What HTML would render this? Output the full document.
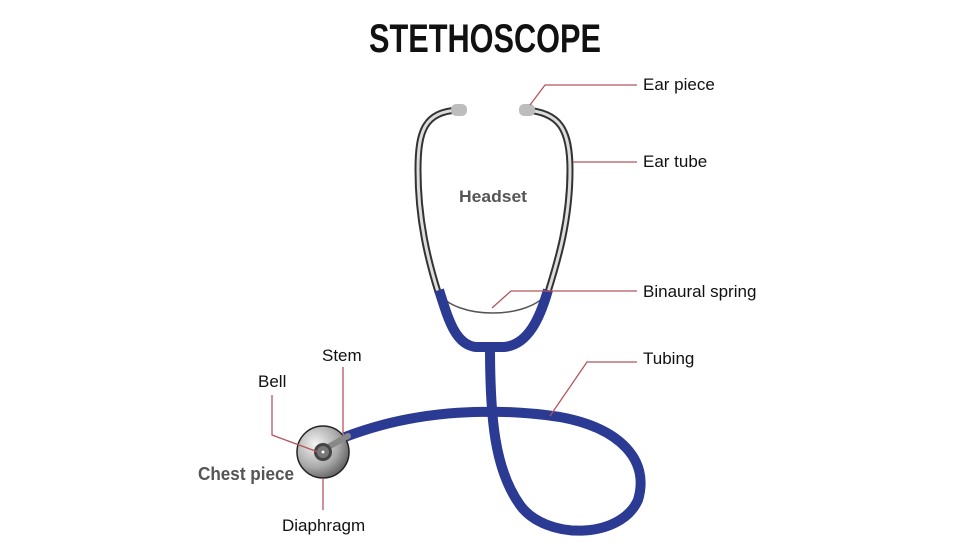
<!DOCTYPE html>
<html><head><style>
html,body{margin:0;padding:0;background:#fff;}
svg{display:block;}
text{font-family:"Liberation Sans",sans-serif;}
</style></head><body>
<svg width="969" height="552" viewBox="0 0 969 552" xmlns="http://www.w3.org/2000/svg">
<defs>
<radialGradient id="g" cx="0.35" cy="0.35" r="0.75">
<stop offset="0" stop-color="#f4f4f4"/><stop offset="0.6" stop-color="#a8a8a8"/><stop offset="1" stop-color="#555"/>
</radialGradient>
</defs>
<text x="485" y="52" text-anchor="middle" font-size="40" font-weight="bold" fill="#111" textLength="232" lengthAdjust="spacingAndGlyphs">STETHOSCOPE</text>
<g fill="none" stroke-linecap="round">
<path d="M458,110 C425,112 418,130 418,170 C418,220 428,260 438,292" stroke="#333" stroke-width="7"/>
<path d="M458,110 C425,112 418,130 418,170 C418,220 428,260 438,292" stroke="#ddd" stroke-width="3"/>
<path d="M525,110 C560,112 570,130 570,170 C570,220 558,260 548,292" stroke="#333" stroke-width="7"/>
<path d="M525,110 C560,112 570,130 570,170 C570,220 558,260 548,292" stroke="#ddd" stroke-width="3"/>
<path d="M438,292 C455,320 530,320 548,292" stroke="#555" stroke-width="1.5"/>
</g>
<rect x="451" y="104" width="16" height="12" rx="5" fill="#bdbdbd"/>
<rect x="519" y="104" width="16" height="12" rx="5" fill="#bdbdbd"/>
<g fill="none" stroke="#2b3a92" stroke-width="10" stroke-linejoin="round">
<path d="M439,290 C448,318 455,345 476,347 L504,347 C528,345 540,318 548,290"/>
<path d="M490,347 C490,420 495,470 520,505 C545,540 620,540 638,500 C650,460 620,428 560,417 C500,408 420,408 345,437"/>
</g>
<circle cx="323" cy="452" r="26" fill="url(#g)" stroke="#222" stroke-width="1.5"/>
<line x1="330" y1="446" x2="348" y2="436" stroke="#888" stroke-width="6" stroke-linecap="round"/>
<circle cx="323" cy="452" r="9" fill="#444"/>
<circle cx="323" cy="452" r="6" fill="#777"/>
<circle cx="323" cy="452" r="1.5" fill="#fff"/>
<g stroke="#b5555f" stroke-width="1.3" fill="none">
<polyline points="530,105 545,85 637,85"/>
<polyline points="573,162 637,162"/>
<polyline points="492,308 511,291 637,291"/>
<polyline points="550,416 587,362 637,362"/>
<polyline points="343,367 343,435"/>
<polyline points="272,395 272,435 318,452"/>
<polyline points="323,478 323,510"/>
</g>
<g font-size="17" fill="#111">
<text x="643" y="90">Ear piece</text>
<text x="643" y="167">Ear tube</text>
<text x="643" y="297">Binaural spring</text>
<text x="643" y="364">Tubing</text>
<text x="322" y="361">Stem</text>
<text x="258" y="387">Bell</text>
<text x="282" y="531">Diaphragm</text>
</g>
<text x="459" y="202" font-size="17" font-weight="bold" fill="#555" textLength="68" lengthAdjust="spacingAndGlyphs">Headset</text>
<text x="198" y="480" font-size="18" font-weight="bold" fill="#555" textLength="96" lengthAdjust="spacingAndGlyphs">Chest piece</text>
</svg>
</body></html>
